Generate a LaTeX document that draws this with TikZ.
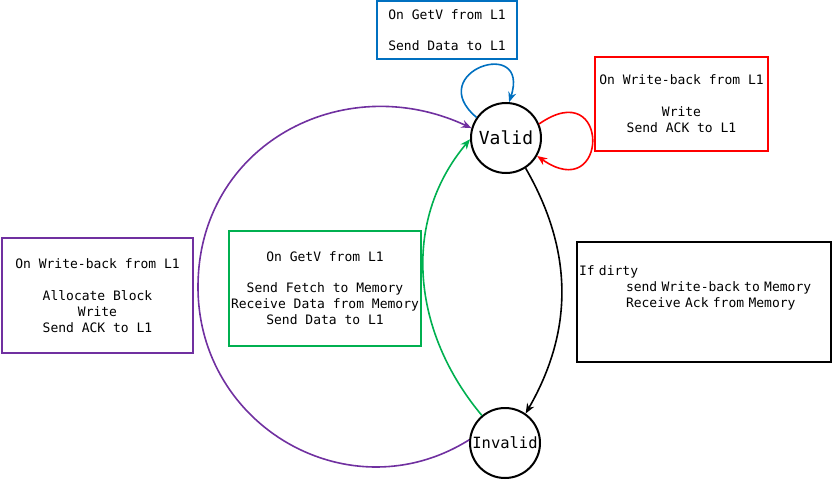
\documentclass[tikz,border=0pt]{standalone}
\usepackage{fontspec}
\setmonofont{DejaVu Sans Mono}
\usetikzlibrary{arrows.meta}

\definecolor{getvblue}{RGB}{0,112,192}
\definecolor{wbred}{RGB}{255,0,0}
\definecolor{fetchgreen}{RGB}{0,176,80}
\definecolor{allocpurple}{RGB}{112,48,160}

\tikzset{
  state/.style = {circle, draw, line width=2pt, minimum size=70pt, inner sep=0pt,
                  font=\ttfamily\fontsize{18}{20}\selectfont},
  msg/.style = {draw=#1, line width=2pt, align=center, inner sep=0pt,
                font=\ttfamily\fontsize{13}{16}\selectfont},
  trans/.style = {line width=1.6pt, -{Stealth[length=10pt, width=8pt]}}
}

\begin{document}
\begin{tikzpicture} [x = 1pt, y = -1pt]
\useasboundingbox (0,0) rectangle (833,492);
% states
\node[state] (valid) at (506,138) {Valid};
\node[state, font=\ttfamily\fontsize{15.5}{18}\selectfont] (invalid) at (505,443) {Invalid};
% messages
\node[msg=getvblue, minimum width=140pt, minimum height=58pt] (getvbox) at (447,30)
  {On GetV from L1\\[15pt]Send Data to L1};
\node[msg=wbred, minimum width=173pt, minimum height=94pt] (wbbox) at (681.5,104)
  {On Write-back from L1\\[16pt]Write\\Send ACK to L1};
\node[msg=allocpurple, minimum width=191pt, minimum height=115pt] (allocbox) at (97.5,295.5)
  {On Write-back from L1\\[16pt]Allocate Block\\Write\\Send ACK to L1};
\node[msg=fetchgreen, minimum width=192pt, minimum height=115pt] (fetchbox) at (325,288.5)
  {On GetV from L1\\[15pt]Send Fetch to Memory\\Receive Data from Memory\\Send Data to L1};
\node[msg=black, align=left, text width=250pt, inner xsep=2pt, minimum height=120pt] (evictbox) at (704,302)
  {If dirty\\\hspace*{47pt}send Write-back to Memory\\\hspace*{47pt}Receive Ack from Memory\\[14pt]\mbox{}};
% transitions
\coordinate (far) at (198,287);
\path [trans, color = getvblue] (valid.145) edge[out=140, in=72, looseness=5] (valid.85);
\path [trans, color = wbred] (valid.23) edge[out=35, in=-35, looseness=7] (valid.-30);
\path [trans, color = black] (valid.-57) edge[out=-60, in=60] (invalid.55);
\path [trans, color = fetchgreen] (invalid.130) edge[out=130, in=-130] (valid.182);
\draw [trans, color = allocpurple] (invalid.175) to[out=212, in=-90, looseness=1.15] (far)
  to[out=90, in=155, looseness=1.15] (valid.164);
\end{tikzpicture}
\end{document}
